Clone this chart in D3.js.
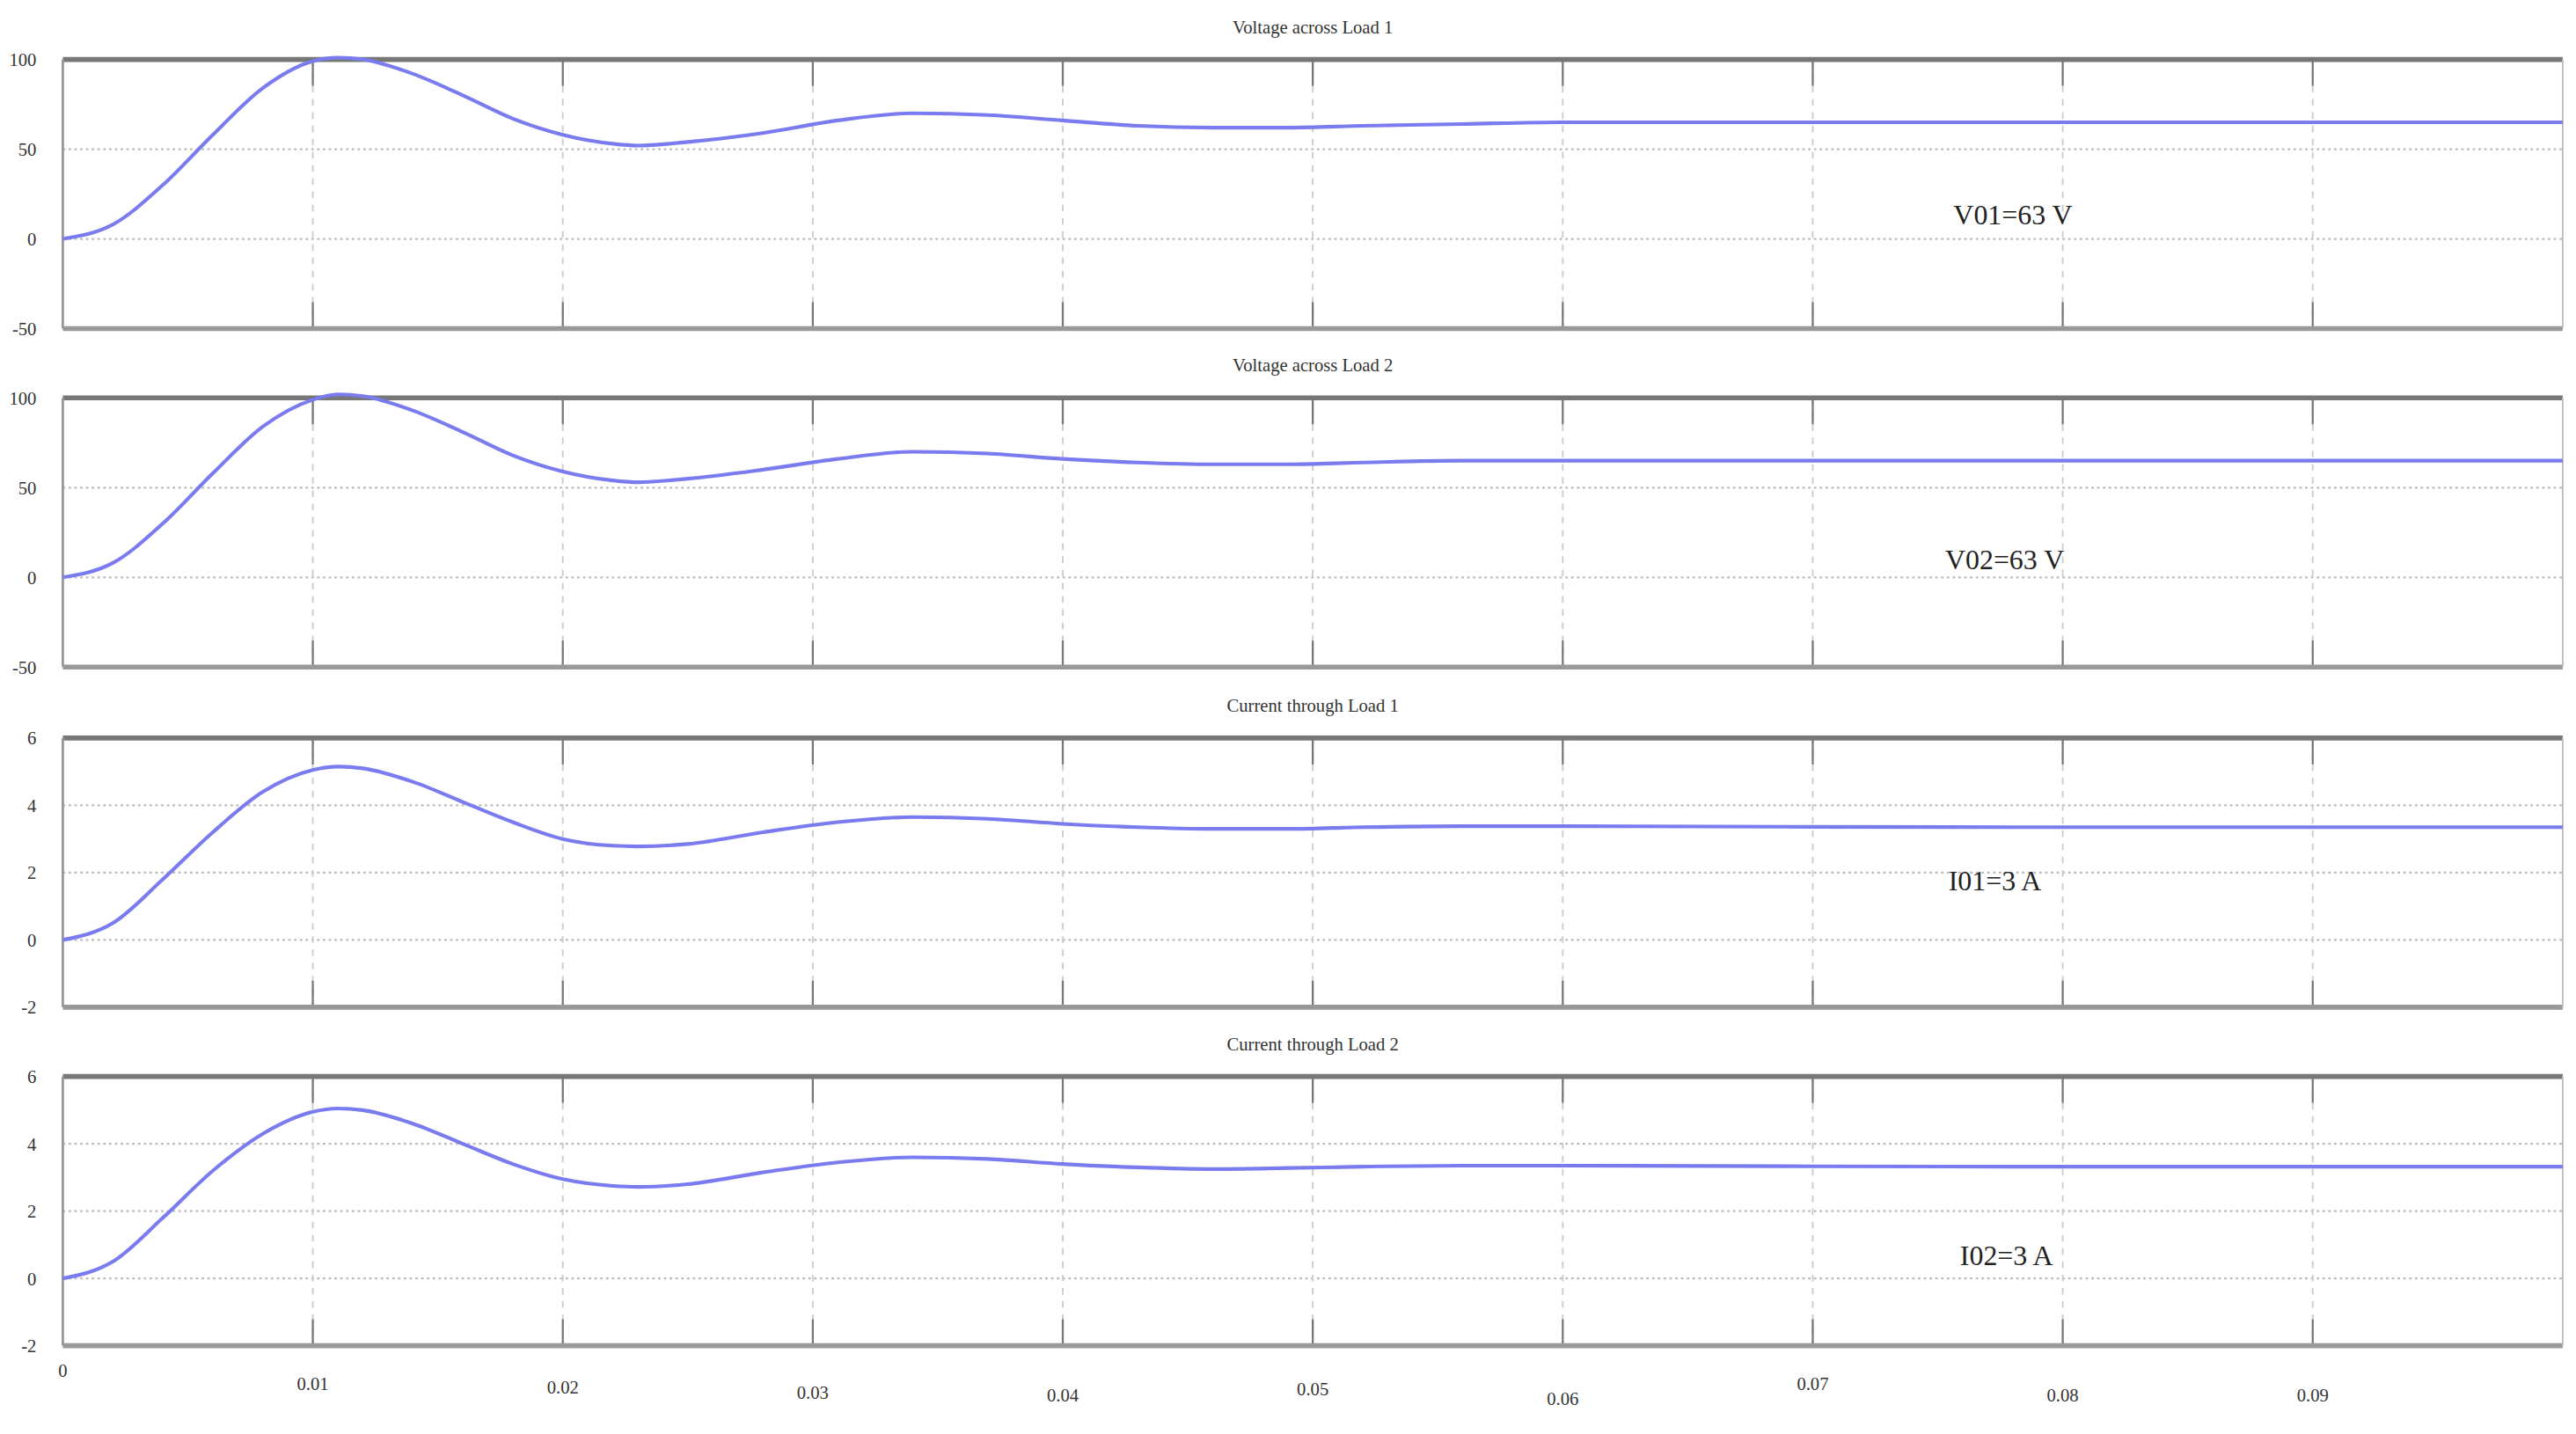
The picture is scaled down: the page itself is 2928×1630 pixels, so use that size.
<!DOCTYPE html>
<html><head><meta charset="utf-8">
<script src="https://cdn.jsdelivr.net/npm/d3@7"></script>
<style>body{margin:0;background:#fff}</style>
</head><body><div id="app"></div>
<script>
// sample times (s)
const times = [0,0.002,0.004,0.006,0.008,0.010,0.011,0.012,0.014,0.016,0.018,0.020,0.022,0.023,0.025,0.028,0.031,0.034,0.037,0.040,0.043,0.046,0.049,0.052,0.056,0.060,0.070,0.080,0.090,0.100];
const v01 = [0,8,30,58,84,99,101,100,92,80,67,58,53,52,54,59,66,70,69,66,63,62,62,63,64,65,65,65,65,65];
const v02 = [0,8,30,58,84,99,102,101,93,81,68,59,54,53,55,60,66,70,69,66,64,63,63,64,65,65,65,65,65,65];
const i01 = [0,0.5,1.8,3.2,4.4,5.05,5.15,5.1,4.7,4.1,3.5,3.0,2.8,2.78,2.85,3.2,3.5,3.65,3.6,3.45,3.35,3.3,3.3,3.35,3.38,3.38,3.36,3.35,3.35,3.35];
const i02 = [0,0.5,1.8,3.2,4.3,4.95,5.05,5.0,4.6,4.0,3.4,2.95,2.75,2.72,2.8,3.15,3.45,3.6,3.55,3.4,3.3,3.25,3.28,3.32,3.35,3.35,3.33,3.32,3.32,3.32];
const xTicks = [0,0.01,0.02,0.03,0.04,0.05,0.06,0.07,0.08,0.09];
const xTickDrop = [0,8,10,13,15,11,17,8,15,15];

const panels = [
  {title:'Voltage across Load 1', data:v01, domain:[-50,100], ticks:[-50,0,50,100], note:'V01=63 V', top:36, noteX:1183, noteY:136},
  {title:'Voltage across Load 2', data:v02, domain:[-50,100], ticks:[-50,0,50,100], note:'V02=63 V', top:241, noteX:1178, noteY:345},
  {title:'Current through Load 1', data:i01, domain:[-2,6], ticks:[-2,0,2,4,6], note:'I01=3 A', top:447, noteX:1180, noteY:539},
  {title:'Current through Load 2', data:i02, domain:[-2,6], ticks:[-2,0,2,4,6], note:'I02=3 A', top:652, noteX:1187, noteY:766},
];

const W = 1560, H = 868.5, left = 38, right = 1552, ph = 163;
const svg = d3.select('#app').append('svg')
  .attr('width', 2928).attr('height', 1630)
  .attr('viewBox', [0, 0, W, H])
  .style('font-family', 'Liberation Serif, DejaVu Serif, serif');

const x = d3.scaleLinear().domain([0, 0.1]).range([left, right]);

panels.forEach((p) => {
  const y = d3.scaleLinear().domain(p.domain).range([p.top + ph, p.top]);
  const g = svg.append('g');
  g.append('text').attr('x', (left + right) / 2).attr('y', p.top - 16)
    .attr('text-anchor', 'middle').attr('font-size', 11).attr('fill', '#333').text(p.title);
  // horizontal dotted grid
  g.selectAll('.hg').data(p.ticks.slice(1, -1)).join('line')
    .attr('x1', left).attr('x2', right).attr('y1', y).attr('y2', y)
    .attr('stroke', '#bbb').attr('stroke-width', 1.2).attr('stroke-dasharray', '1.5,2');
  // vertical dashed grid
  g.selectAll('.vg').data(xTicks.slice(1)).join('line')
    .attr('x1', x).attr('x2', x).attr('y1', p.top).attr('y2', p.top + ph)
    .attr('stroke', '#ccc').attr('stroke-dasharray', '4,4');
  // tick marks at top and bottom
  g.selectAll('.tt').data(xTicks.slice(1)).join('line')
    .attr('x1', x).attr('x2', x).attr('y1', p.top).attr('y2', p.top + 16)
    .attr('stroke', '#777').attr('stroke-width', 1.2);
  g.selectAll('.tb').data(xTicks.slice(1)).join('line')
    .attr('x1', x).attr('x2', x).attr('y1', p.top + ph - 16).attr('y2', p.top + ph)
    .attr('stroke', '#777').attr('stroke-width', 1.2);
  // frame
  g.append('line').attr('x1', left).attr('x2', right).attr('y1', p.top).attr('y2', p.top)
    .attr('stroke', '#777').attr('stroke-width', 3);
  g.append('line').attr('x1', left).attr('x2', right).attr('y1', p.top + ph).attr('y2', p.top + ph)
    .attr('stroke', '#999').attr('stroke-width', 3);
  g.append('line').attr('x1', left).attr('x2', left).attr('y1', p.top).attr('y2', p.top + ph)
    .attr('stroke', '#999').attr('stroke-width', 1.5);
  g.append('line').attr('x1', right).attr('x2', right).attr('y1', p.top).attr('y2', p.top + ph)
    .attr('stroke', '#bbb').attr('stroke-width', 1);
  // y labels
  g.selectAll('.yl').data(p.ticks).join('text')
    .attr('x', 22).attr('y', (d) => y(d) + 4)
    .attr('text-anchor', 'end').attr('font-size', 11).attr('fill', '#333').text((d) => d);
  // trace
  const line = d3.line().x((d, i) => x(times[i])).y((d) => y(d)).curve(d3.curveMonotoneX);
  g.append('path').datum(p.data).attr('d', line)
    .attr('fill', 'none').attr('stroke', '#7b7bf0').attr('stroke-width', 2.2);
  // annotation
  g.append('text').attr('x', p.noteX).attr('y', p.noteY)
    .attr('font-size', 17).attr('fill', '#222').text(p.note);
});

// x axis labels (staggered as in the original)
svg.selectAll('.xl').data(xTicks).join('text')
  .attr('x', x).attr('y', (d, i) => 834 + xTickDrop[i])
  .attr('text-anchor', 'middle').attr('font-size', 11).attr('fill', '#333')
  .text((d) => d === 0 ? '0' : d3.format('.2f')(d));
</script></body></html>
